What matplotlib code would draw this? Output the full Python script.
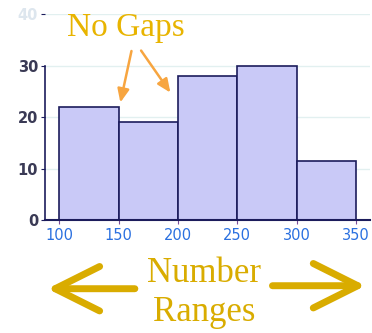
import matplotlib
matplotlib.use("Agg")
import matplotlib.pyplot as plt

# histogram data
bin_edges = [100, 150, 200, 250, 300, 350]
counts = [22, 19, 28, 30, 11.5]
y_ticks = [0, 10, 20, 30, 40]
x_ticks = [100, 150, 200, 250, 300, 350]

navy = "#1c1c5c"
fill = "#c9c9f7"
gold = "#d9ac00"
orange = "#f7a540"

fig = plt.figure(figsize=(3.72, 3.33), dpi=100)
ax = fig.add_axes([0.121, 0.339, 0.874, 0.619])

lefts = bin_edges[:-1]
widths = [b - a for a, b in zip(bin_edges[:-1], bin_edges[1:])]
ax.bar(lefts, counts, width=widths, align="edge", color=fill,
       edgecolor=navy, linewidth=1.2, zorder=2)

ax.set_xlim(88, 362)
ax.set_ylim(0, 40)
ax.set_xticks(x_ticks)
ax.set_yticks(y_ticks)
ax.set_xticklabels([str(t) for t in x_ticks], color="#2a70e0", fontsize=10.5)
ax.set_yticklabels([str(t) for t in y_ticks], color="#3a3a55", fontsize=10.5,
                   fontweight="bold")
ax.get_yticklabels()[-1].set_color("#dde6ee")
ax.tick_params(axis="x", length=3, color="#7a4a9a", pad=3)
ax.tick_params(axis="y", length=3, color=navy, pad=2)

ax.grid(axis="y", color="#e2f0f0", linewidth=1, zorder=0)
for s in ["top", "right"]:
    ax.spines[s].set_visible(False)
ax.spines["left"].set_bounds(0, 30)
ax.spines["left"].set_color(navy)
ax.spines["left"].set_linewidth(1.2)
ax.spines["bottom"].set_color(navy)
ax.spines["bottom"].set_linewidth(1.5)

# "No Gaps" annotation
fig.text(0.338, 0.918, "No Gaps", fontsize=24, color="#e8b400",
         family="Liberation Serif", ha="center", va="center")
ax.annotate("", xy=(151, 22.3), xytext=(0.355, 0.855),
            textcoords="figure fraction",
            arrowprops=dict(arrowstyle="-|>,head_length=0.8,head_width=0.35",
                            color=orange, lw=1.8))
ax.annotate("", xy=(195, 24.3), xytext=(0.375, 0.855),
            textcoords="figure fraction",
            arrowprops=dict(arrowstyle="-|>,head_length=0.8,head_width=0.35",
                            color=orange, lw=1.8))

# bottom label with arrows
fig.text(0.548, 0.178, "Number", fontsize=25, color=gold,
         family="Liberation Serif", ha="center", va="center")
fig.text(0.548, 0.062, "Ranges", fontsize=25, color=gold,
         family="Liberation Serif", ha="center", va="center")
fig.add_artist(matplotlib.patches.FancyArrowPatch(
    (0.37, 0.133), (0.12, 0.133), transform=fig.transFigure,
    arrowstyle="->,head_length=16,head_width=8", color=gold, lw=5,
    mutation_scale=2))
fig.add_artist(matplotlib.patches.FancyArrowPatch(
    (0.725, 0.142), (0.99, 0.142), transform=fig.transFigure,
    arrowstyle="->,head_length=16,head_width=8", color=gold, lw=5,
    mutation_scale=2))

fig.savefig("out.png", dpi=100)
